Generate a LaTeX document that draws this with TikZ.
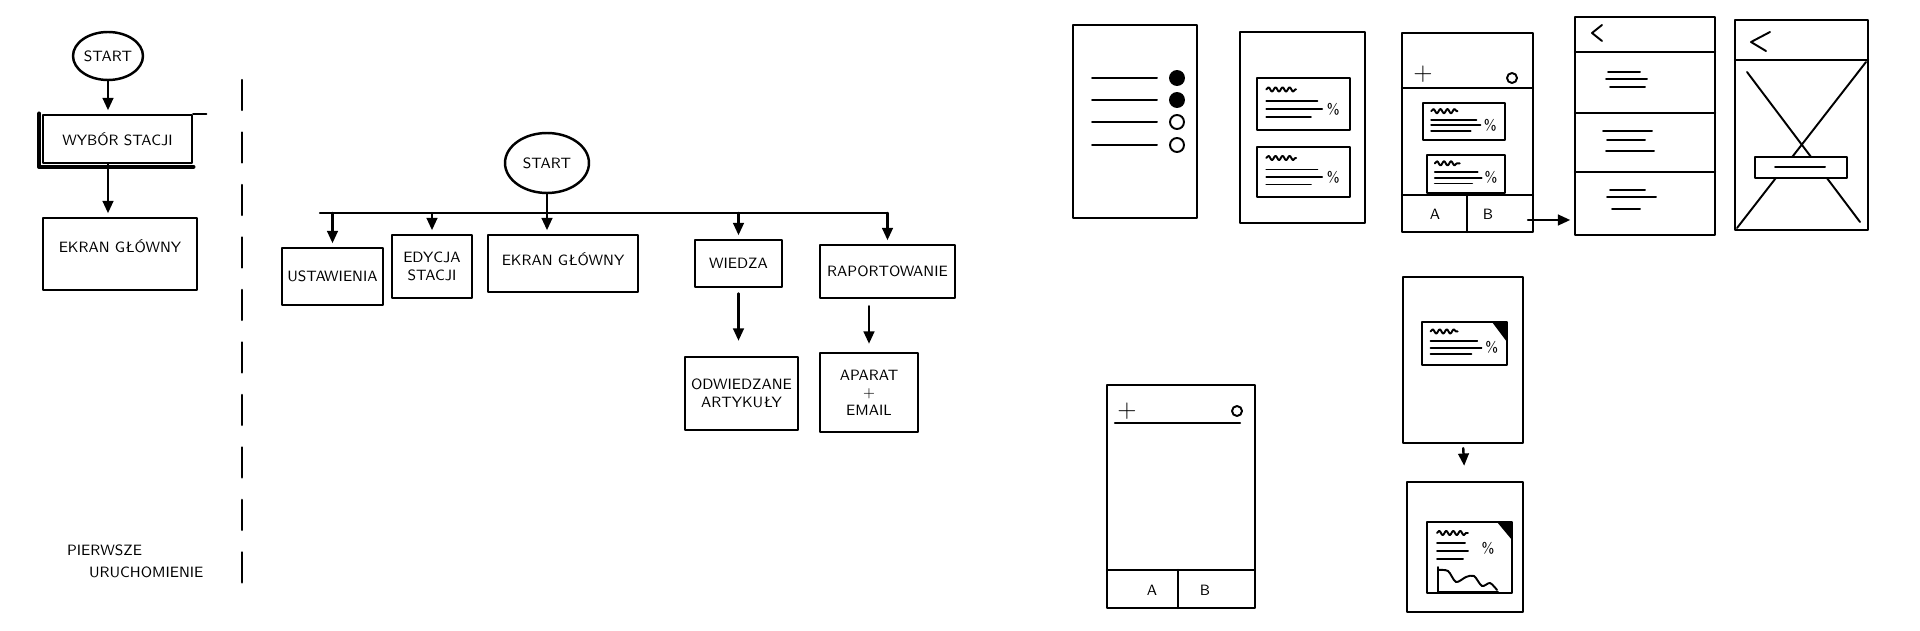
\documentclass[tikz,border=0pt]{standalone}
\usepackage{tikz}
\usetikzlibrary{shapes.geometric,arrows.meta,decorations.pathmorphing}

\tikzset{
  box/.style={draw, rectangle, inner sep=1pt, align=center},
  startnode/.style={draw, ellipse, inner sep=0pt},
  screen/.style={draw, rectangle, inner sep=0pt},
  arr/.style={-{Triangle[length=7pt,width=6pt]}, shorten >=2pt},
  squig/.style={decorate, decoration={snake, amplitude=1.2pt, segment length=4pt}},
  wfline/.style={line width=1.1pt},
  plussign/.style={font=\sffamily\Large}
}

% card of a wireframe: name, x, y, width, height
\newcommand{\wfcard}[5]{%
  \draw[wfline] (#2,#3) rectangle ++(#4,#5);
  \draw[squig,wfline] ({#2+0.1*#4},{#3+0.22*#5}) -- ++({0.32*#4},0);
  \foreach \cf/\cl in {0.45/0.55,0.6/0.6,0.75/0.48}
    \draw[wfline] ({#2+0.1*#4},{#3+\cf*#5}) -- ++({\cl*#4},0);
  \node (#1-pct) at ({#2+0.82*#4},{#3+0.6*#5}) {\%};
}

\begin{document}
\begin{tikzpicture}[x=0.02cm, y=-0.02cm, line width=1.4pt, line cap=round, line join=round,
  font=\sffamily\fontsize{8.5}{10}\selectfont]
\useasboundingbox (0,0) rectangle (1920,631);

% pierwsze uruchomienie
\node[startnode, minimum width=1.4cm, minimum height=0.96cm] (start1) at (108,56) {START};
\node[box, minimum width=2.98cm, minimum height=0.96cm] (wybor) at (117.5,139) {WYBÓR STACJI};
\draw[line width=2.6pt] ([xshift=-1.5pt]wybor.north west) -- ([xshift=-1.5pt,yshift=-1.5pt]wybor.south west)
  -- ([yshift=-1.5pt]wybor.south east);
\draw (wybor.north east) -- ++(13,0);
\node[box, minimum width=3.08cm, minimum height=1.44cm,
  label={[below=0.32cm]north:EKRAN GŁÓWNY}] (ekran1) at (120,254) {};
\draw[arr] (start1.south) -- (start1.south |- wybor.north);
\draw[arr] (start1.south |- wybor.south) -- (start1.south |- ekran1.north);

\node[anchor=west] (first1) at (60,550) {PIERWSZE};
\node[anchor=west] (first2) at (82,572) {URUCHOMIENIE};

\coordinate (divtop) at (242,80);
\coordinate (divbot) at (242,583);
\draw[dash pattern=on 0.6cm off 0.45cm] (divtop) -- (divbot);

% struktura aplikacji
\node[startnode, minimum width=1.68cm, minimum height=1.2cm] (start2) at (547,163) {START};
\node[box, minimum width=2.02cm, minimum height=1.14cm] (ustaw) at (332.5,276.5) {USTAWIENIA};
\node[box, minimum width=1.6cm, minimum height=1.26cm] (edycja) at (432,266.5) {EDYCJA\\STACJI};
\node[box, minimum width=3cm, minimum height=1.14cm,
  label={[below=0.24cm]north:EKRAN GŁÓWNY}] (ekran2) at (563,263.5) {};
\node[box, minimum width=1.74cm, minimum height=0.94cm] (wiedza) at (738.5,263.5) {WIEDZA};
\node[box, minimum width=2.7cm, minimum height=1.06cm] (raport) at (887.5,271.5) {RAPORTOWANIE};
\node[box, minimum width=2.26cm, minimum height=1.46cm] (odwiedz) at (741.5,393.5) {ODWIEDZANE\\ARTYKUŁY};
\node[box, minimum width=1.96cm, minimum height=1.58cm] (aparat) at (869,392.5) {APARAT\\+\\EMAIL};

\coordinate (busL) at (320,213);
\coordinate (busR) at (887.5,213);
\draw (busL) -- (busR);
\draw[arr] (start2.south) -- (start2.south |- ekran2.north);
\foreach \n in {ustaw,edycja,wiedza,raport}
  \draw[arr] (\n.north |- busL) -- (\n.north);
\draw[arr, shorten <=3pt, shorten >=0.3cm] (wiedza.south) -- (wiedza.south |- odwiedz.north);
\draw[arr, shorten <=0.14cm, shorten >=0.16cm] (aparat.north |- raport.south) -- (aparat.north);

% makiety ekranow
\node[screen, minimum width=2.48cm, minimum height=3.86cm] (scrA) at (1135,121.5) {};
\foreach \yy/\ff in {78/black,100/black,122/white,145/white} {
  \draw[wfline] (1092,\yy) -- (1157,\yy);
  \draw[wfline, fill=\ff] (1177,\yy) circle (7);
}

\node[screen, minimum width=2.5cm, minimum height=3.82cm] (scrB) at (1302.5,127.5) {};
\wfcard{cardB1}{1257}{78}{93}{52}
\wfcard{cardB2}{1257}{147}{93}{50}

\node[screen, minimum width=2.62cm, minimum height=3.98cm] (scrC) at (1467.5,132.5) {};
\draw (1402,88) -- (1533,88);
\node[plussign] (plusC) at (1423,74) {+};
\draw[wfline] (1512,78) circle (5);
\wfcard{cardC1}{1423}{103}{82}{37}
\wfcard{cardC2}{1427}{155}{78}{38}
\draw (1402,195) -- (1533,195);
\draw (1467,195) -- (1467,232);
\node (tabCA) at (1435,214) {A};
\node (tabCB) at (1488,214) {B};

\node[screen, minimum width=2.8cm, minimum height=4.36cm] (scrD) at (1645,126) {};
\draw (1575,52) -- (1715,52);
\draw[wfline] (1602,25) -- (1592,33) -- (1602,41);
\draw (1575,113) -- (1715,113);
\draw (1575,172) -- (1715,172);
\foreach \yy/\xa/\xb in {72/1608/1640, 79/1606/1647, 87/1610/1645, 131/1603/1652, 140/1607/1645,
  151/1606/1654, 190/1610/1645, 197/1607/1656, 209/1612/1640}
  \draw[wfline] (\xa,\yy) -- (\xb,\yy);
\coordinate (arrC) at (1528,220);
\draw[arr] (arrC) -- (arrC -| scrD.west);

\node[screen, minimum width=2.66cm, minimum height=4.2cm] (scrE) at (1801.5,125) {};
\draw (1735,60) -- (1868,60);
\draw[wfline] (1770,32) -- (1751,42) -- (1766,51);
\draw[wfline] (1747,72) -- (1860,222);
\draw[wfline] (1866,62) -- (1737,228);
\draw[wfline, fill=white] (1755,157) rectangle (1847,178);
\draw[wfline] (1775,167) -- (1825,167);

\node[screen, minimum width=2.96cm, minimum height=4.46cm] (scrF) at (1181,496.5) {};
\draw (1115,423) -- (1240,423);
\node[plussign] (plusF) at (1127,411) {+};
\draw[wfline] (1237,411) circle (5);
\draw (1107,570) -- (1255,570);
\draw (1178,570) -- (1178,608);
\node (tabFA) at (1152,590) {A};
\node (tabFB) at (1205,590) {B};

\node[screen, minimum width=2.4cm, minimum height=3.32cm] (scrG) at (1463,360) {};
\wfcard{cardG}{1422}{322}{85}{43}
\fill (1492,322) -- (1507,322) -- (1507,342) -- cycle;

\node[screen, minimum width=2.32cm, minimum height=2.6cm] (scrH) at (1465,547) {};
\draw[wfline] (1427,522) rectangle (1512,593);
\fill (1497,522) -- (1512,522) -- (1512,540) -- cycle;
\draw[squig,wfline] (1437,533) -- (1468,533);
\foreach \yy/\xb in {543/1465,551/1468,559/1463}
  \draw[wfline] (1437,\yy) -- (\xb,\yy);
\node (pctH) at (1488,548) {\%};
\draw[wfline] (1438,567) -- (1438,592) -- (1498,592);
\draw[wfline] plot[smooth] coordinates {(1438,570) (1448,571) (1456,582) (1466,577) (1474,576)
  (1482,586) (1490,583) (1497,590)};
\draw[arr, shorten <=0.08cm, shorten >=0.3cm] (scrG.south) -- (scrH.north);
\end{tikzpicture}
\end{document}
